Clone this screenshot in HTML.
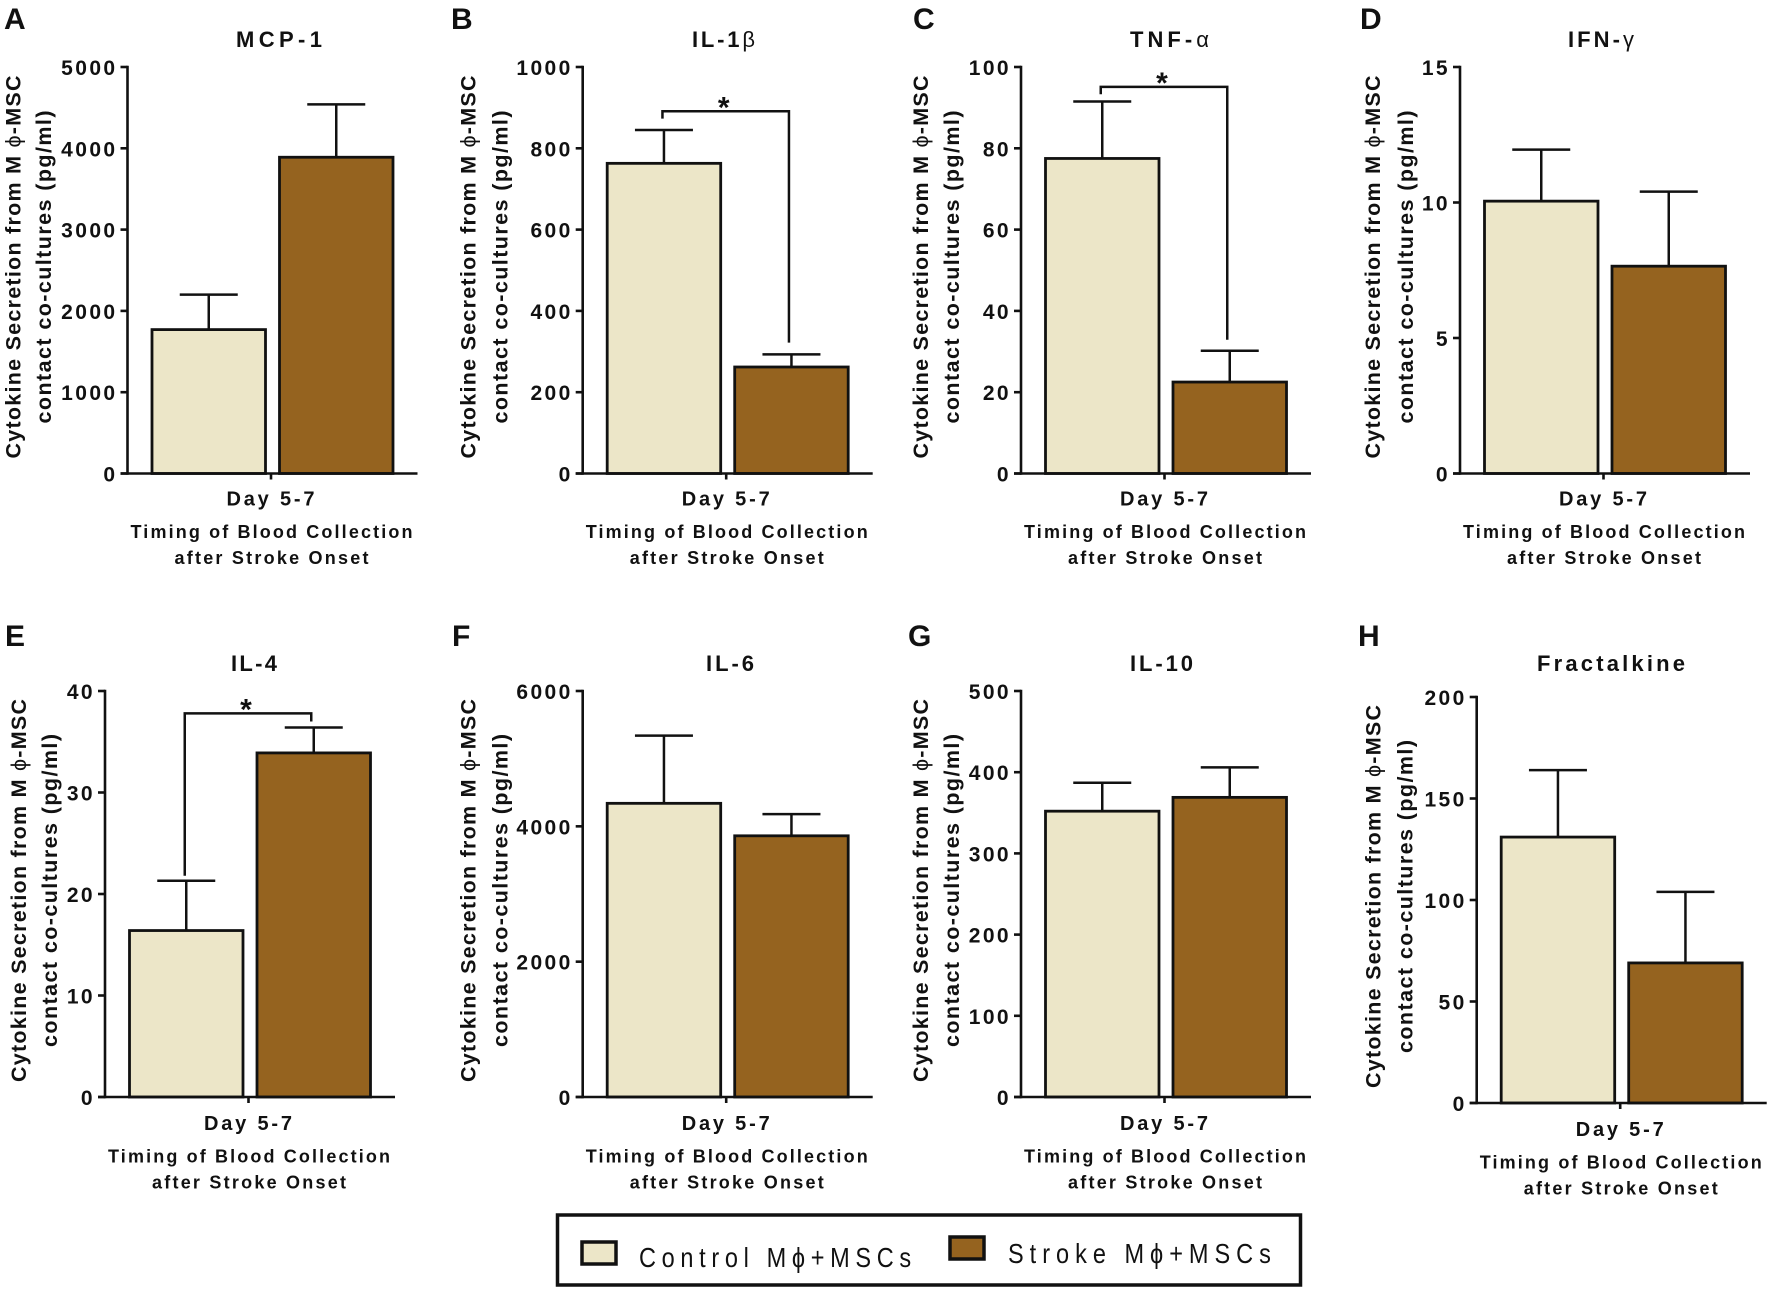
<!DOCTYPE html>
<html lang="en">
<head>
<meta charset="utf-8">
<title>Cytokine secretion from macrophage-MSC contact co-cultures</title>
<style>
html,body{margin:0;padding:0;background:#fff;width:1772px;height:1292px;overflow:hidden}
svg{display:block}
text{font-family:"Liberation Sans","DejaVu Sans",sans-serif;fill:#111}
.tick{font-size:21px;font-weight:700;letter-spacing:2.4px;text-anchor:end}
.ytitle{font-size:21.5px;font-weight:700;text-anchor:middle}
.ptitle{font-size:22px;font-weight:700;text-anchor:middle}
.day{font-size:20px;font-weight:700;text-anchor:middle}
.timing{font-size:18px;font-weight:700;text-anchor:middle}
.letter{font-size:30px;font-weight:700}
.star{font-size:30px;font-weight:700;text-anchor:middle}
.legend-text{font-size:28px}
.thin{font-weight:400}
</style>
</head>
<body>
<svg id="figure" xmlns="http://www.w3.org/2000/svg" width="1772" height="1292" viewBox="0 0 1772 1292">
  <g>
    <rect x="557.5" y="1215" width="743" height="70" fill="#fff" stroke="#111" stroke-width="3.5"/>
    <rect x="582" y="1242" width="34" height="22" fill="#ece6c8" stroke="#111" stroke-width="3.5"/>
    <text class="legend-text" transform="translate(639 1267) scale(0.84 1)" textLength="324" lengthAdjust="spacing">Control Mϕ+MSCs</text>
    <rect x="950" y="1237" width="34" height="22" fill="#95631f" stroke="#111" stroke-width="3.5"/>
    <text class="legend-text" transform="translate(1008 1263) scale(0.84 1)" textLength="313" lengthAdjust="spacing">Stroke Mϕ+MSCs</text>
  </g>
</svg>
<script>
// ---- chart data ----
const panelLetters = ["A","B","C","D","E","F","G","H"];
const cytokines = ["MCP-1","IL-1β","TNF-α","IFN-γ","IL-4","IL-6","IL-10","Fractalkine"];
const axisMaxima = [5000,1000,100,15,40,6000,500,200];
const yTickLabels = [
  [0,1000,2000,3000,4000,5000],
  [0,200,400,600,800,1000],
  [0,20,40,60,80,100],
  [0,5,10,15],
  [0,10,20,30,40],
  [0,2000,4000,6000],
  [0,100,200,300,400,500],
  [0,50,100,150,200]
];
const controlMeans = [1770,763,77.5,10.05,16.4,4340,352,131];
const controlErrorTops = [2200,845,91.5,11.95,21.3,5340,387,164];
const strokeMeans = [3890,262,22.5,7.65,33.9,3860,369,69];
const strokeErrorTops = [4540,293,30.2,10.4,36.4,4180,406,104];
const categoryLabel = "Day 5-7";
const xTitleLine1 = "Timing of Blood Collection";
const xTitleLine2 = "after Stroke Onset";
const yTitleLine1 = "Cytokine Secretion from M ϕ-MSC";
const yTitleLine2 = "contact co-cultures (pg/ml)";
// significance brackets: panel index, bracket height and drop ends in data units
const bracketPanels = [1,2,4];
const bracketLevels = [891,95.1,37.8];
const bracketLeftEnds = [873,93.3,21.8];
const bracketRightEnds = [322,32.9,37.0];

// ---- layout (pixels, separate from data) ----
const layout = [
  {ax:127.5, top:67, bot:473.5, lx:4,    ly:29,  tx:279,    tw:86, tb:47,  t1:-107, t2:-76.5, lo:0},
  {ax:582.7, top:67, bot:473.5, lx:451,  ly:29,  tx:723.5,  tw:63, tb:47,  t1:-107, t2:-75,   lo:0},
  {ax:1021,  top:67, bot:473.5, lx:913,  ly:29,  tx:1169.5, tw:79, tb:47,  t1:-93,  t2:-62,   lo:0},
  {ax:1460,  top:67, bot:473.5, lx:1360, ly:29,  tx:1601,   tw:66, tb:47,  t1:-80,  t2:-47,   lo:0},
  {ax:105,   top:691,bot:1097,  lx:5,    ly:646, tx:254,    tw:46, tb:671, t1:-79,  t2:-48,   lo:1},
  {ax:582.7, top:691,bot:1097,  lx:452,  ly:646, tx:730,    tw:48, tb:671, t1:-107, t2:-75,   lo:1},
  {ax:1021,  top:691,bot:1097,  lx:908,  ly:646, tx:1161.5, tw:63, tb:671, t1:-93,  t2:-62,   lo:1},
  {ax:1476.7,top:697,bot:1103,  lx:1358, ly:646, tx:1611,   tw:148,tb:671, t1:-96,  t2:-64,   lo:1}
];
const INK = "#111";
const CONTROL_FILL = "#ece6c8";
const STROKE_FILL = "#95631f";
const BAR_OFFSET_A = 24.5, BAR_W = 113.5, BAR_OFFSET_B = 152;

const SVGNS = "http://www.w3.org/2000/svg";
const fig = document.getElementById("figure");

function yScale(i, v){
  const p = layout[i];
  return p.bot - (v / axisMaxima[i]) * (p.bot - p.top);
}
function line(parent, x1, y1, x2, y2, w){
  const el = document.createElementNS(SVGNS, "line");
  el.setAttribute("x1", x1); el.setAttribute("y1", y1);
  el.setAttribute("x2", x2); el.setAttribute("y2", y2);
  el.setAttribute("stroke", INK); el.setAttribute("stroke-width", w);
  parent.appendChild(el);
  return el;
}
function label(parent, cls, x, y, str, len, rotate){
  const el = document.createElementNS(SVGNS, "text");
  el.setAttribute("class", cls);
  el.setAttribute("x", x); el.setAttribute("y", y);
  if (len) { el.setAttribute("textLength", len); el.setAttribute("lengthAdjust", "spacing"); }
  if (rotate) el.setAttribute("transform", "rotate(-90 " + x + " " + y + ")");
  // Greek symbols are drawn in a lighter weight, as in the figure
  str.split(/([ϕβαγ])/).forEach(function(part){
    if (!part) return;
    if (/[ϕβαγ]/.test(part)) {
      const ts = document.createElementNS(SVGNS, "tspan");
      ts.setAttribute("class", "thin");
      ts.textContent = part;
      el.appendChild(ts);
    } else {
      el.appendChild(document.createTextNode(part));
    }
  });
  parent.appendChild(el);
  return el;
}
function bar(parent, x, w, yTop, yBot, fill){
  const el = document.createElementNS(SVGNS, "rect");
  el.setAttribute("x", x); el.setAttribute("y", yTop);
  el.setAttribute("width", w); el.setAttribute("height", yBot - yTop);
  el.setAttribute("fill", fill); el.setAttribute("stroke", INK);
  el.setAttribute("stroke-width", 2.8);
  parent.appendChild(el);
  return el;
}

panelLetters.forEach(function(letter, i){
  const p = layout[i];
  const g = document.createElementNS(SVGNS, "g");
  
  
  fig.appendChild(g);

  const letterEl = label(g, "letter", p.lx, p.ly, letter);
  
  

  const titleEl = label(g, "ptitle", p.tx, p.tb, cytokines[i], p.tw);
  
  

  const cy = p.bot - 206.5;
  const yt1 = label(g, "ytitle", p.ax + p.t1, cy, yTitleLine1, 383, true);
  
  
  const yt2 = label(g, "ytitle", p.ax + p.t2, cy, yTitleLine2, 313, true);
  
  

  // bars
  const c = bar(g, p.ax + BAR_OFFSET_A, BAR_W, yScale(i, controlMeans[i]), p.bot, CONTROL_FILL);
  
  
  const s = bar(g, p.ax + BAR_OFFSET_B, BAR_W, yScale(i, strokeMeans[i]), p.bot, STROKE_FILL);
  
  

  // error bars
  const cx1 = p.ax + BAR_OFFSET_A + BAR_W / 2;
  const cx2 = p.ax + BAR_OFFSET_B + BAR_W / 2;
  const e1 = line(g, cx1, yScale(i, controlMeans[i]), cx1, yScale(i, controlErrorTops[i]), 2.5);
  
  
  const e1c = line(g, cx1 - 29, yScale(i, controlErrorTops[i]), cx1 + 29, yScale(i, controlErrorTops[i]), 2.5);
  
  
  const e2 = line(g, cx2, yScale(i, strokeMeans[i]), cx2, yScale(i, strokeErrorTops[i]), 2.5);
  
  
  const e2c = line(g, cx2 - 29, yScale(i, strokeErrorTops[i]), cx2 + 29, yScale(i, strokeErrorTops[i]), 2.5);
  
  

  // axes
  const yAxis = line(g, p.ax, p.top - 1.2, p.ax, p.bot + 1.2, 2.6);
  
  
  const xAxis = line(g, p.ax - 7, p.bot, p.ax + 290, p.bot, 2.6);
  
  
  const xTick = line(g, p.ax + 143.5, p.bot, p.ax + 143.5, p.bot + 6, 2.6);
  
  

  yTickLabels[i].forEach(function(v){
    const y = yScale(i, v);
    const t = line(g, p.ax - 7, y, p.ax, y, 2.6);
    
    
    const tl = label(g, "tick", p.ax - 10, y + 8, String(v));
    
    
  });

  const dayEl = label(g, "day", p.ax + 143, p.bot + 32 + p.lo, categoryLabel, 88);
  
  
  const x1El = label(g, "timing", p.ax + 144, p.bot + 64.5 + p.lo, xTitleLine1, 282);
  
  
  const x2El = label(g, "timing", p.ax + 144, p.bot + 90.5 + p.lo, xTitleLine2, 194);
  
  

  // significance bracket
  const b = bracketPanels.indexOf(i);
  if (b >= 0) {
    const bx1 = cx1 - 1.5, bx2 = cx2 - 2.5;
    const by = yScale(i, bracketLevels[b]);
    const path = document.createElementNS(SVGNS, "path");
    path.setAttribute("d", "M" + bx1 + " " + yScale(i, bracketLeftEnds[b]) + "V" + by + "H" + bx2 + "V" + yScale(i, bracketRightEnds[b]));
    path.setAttribute("fill", "none");
    path.setAttribute("stroke", INK);
    path.setAttribute("stroke-width", 2.5);
    g.appendChild(path);
    
    
    const star = label(g, "star", (bx1 + bx2) / 2 - 2, by + 6, "*");
    
    
  }
});
</script>
</body>
</html>
